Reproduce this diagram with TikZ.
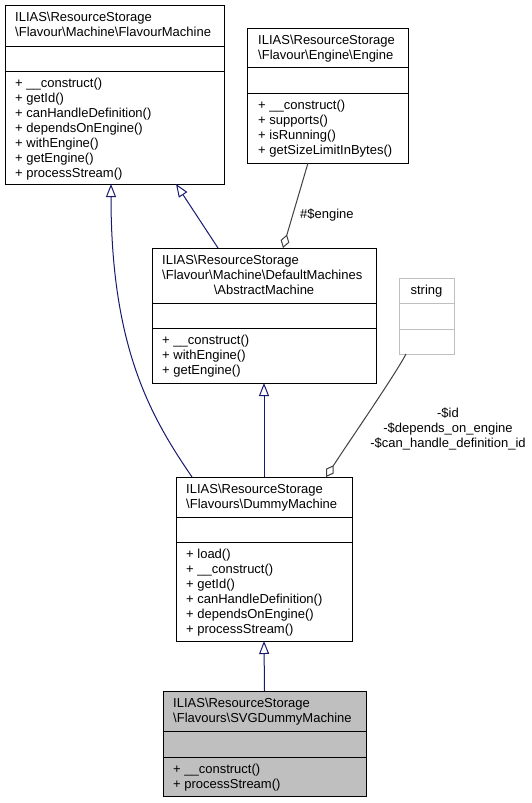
\documentclass[tikz,border=0pt]{standalone}
\usepackage{fontspec}
\setmainfont{Liberation Sans}
\usetikzlibrary{arrows.meta,calc}
\definecolor{edgeblue}{HTML}{191970}
\definecolor{aggr}{HTML}{404040}
\definecolor{lgray}{HTML}{BFBFBF}
\newcommand{\bs}{\textbackslash}
\begin{document}
\begin{tikzpicture}[x=1pt,y=-1pt,
 cls/.style={draw=black, line width=1pt, inner sep=0, outer sep=0, anchor=north west},
 sep/.style={line width=1pt},
 txt/.style={anchor=north west, inner sep=0, align=left, font=\fontsize{13}{15}\selectfont},
 inh/.style={draw=edgeblue, line width=1pt, -{Triangle[length=13pt,width=10pt,fill=white]}},
 agg/.style={draw=aggr, line width=1pt, -{Diamond[length=14pt,width=9pt,fill=white]}},
 lbl/.style={font=\fontsize{13}{15}\selectfont, inner sep=0, align=center}]
\useasboundingbox[fill=white] (0,0) rectangle (531,803);

% FlavourMachine
\node[cls, minimum width=219pt, minimum height=179pt] (fm) at (5,5) {};
\draw[sep] (fm.west |- 0,46) -- (fm.east |- 0,46);
\draw[sep] (fm.west |- 0,71) -- (fm.east |- 0,71);
\node[txt] (fmt) at (15,11) {\strut ILIAS\bs ResourceStorage\\ \bs Flavour\bs Machine\bs FlavourMachine};
\node[txt] (fmm) at (15,77) {\strut + \_\_construct()\\ + getId()\\ + canHandleDefinition()\\ + dependsOnEngine()\\ + withEngine()\\ + getEngine()\\ + processStream()};

% Engine
\node[cls, minimum width=161pt, minimum height=135pt] (en) at (247,28) {};
\draw[sep] (en.west |- 0,67) -- (en.east |- 0,67);
\draw[sep] (en.west |- 0,93) -- (en.east |- 0,93);
\node[txt] (ent) at (258,34) {\strut ILIAS\bs ResourceStorage\\ \bs Flavour\bs Engine\bs Engine};
\node[txt] (enm) at (258,99) {\strut + \_\_construct()\\ + supports()\\ + isRunning()\\ + getSizeLimitInBytes()};

% AbstractMachine
\node[cls, minimum width=224pt, minimum height=135pt] (am) at (152,248) {};
\draw[sep] (am.west |- 0,303) -- (am.east |- 0,303);
\draw[sep] (am.west |- 0,328) -- (am.east |- 0,328);
\node[txt] (amt) at (162,254) {\strut ILIAS\bs ResourceStorage\\ \bs Flavour\bs Machine\bs DefaultMachines};
\node[lbl, anchor=base] (amt3) at (264,294.5) {\bs AbstractMachine};
\node[txt] (amm) at (162,334) {\strut + \_\_construct()\\ + withEngine()\\ + getEngine()};

% string
\node[cls, draw=lgray, minimum width=55pt, minimum height=76pt] (st) at (399,278) {};
\draw[sep, lgray] (st.west |- 0,303) -- (st.east |- 0,303);
\draw[sep, lgray] (st.west |- 0,329) -- (st.east |- 0,329);
\node[lbl, anchor=base] (stt) at (426.5,294.5) {string};

% DummyMachine
\node[cls, minimum width=176pt, minimum height=164pt] (dm) at (176,477) {};
\draw[sep] (dm.west |- 0,517) -- (dm.east |- 0,517);
\draw[sep] (dm.west |- 0,542) -- (dm.east |- 0,542);
\node[txt] (dmt) at (186,483) {\strut ILIAS\bs ResourceStorage\\ \bs Flavours\bs DummyMachine};
\node[txt] (dmm) at (186,548) {\strut + load()\\ + \_\_construct()\\ + getId()\\ + canHandleDefinition()\\ + dependsOnEngine()\\ + processStream()};

% SVGDummyMachine
\node[cls, fill=lgray, minimum width=203pt, minimum height=105pt] (sv) at (163,691) {};
\draw[sep] (sv.west |- 0,731) -- (sv.east |- 0,731);
\draw[sep] (sv.west |- 0,757) -- (sv.east |- 0,757);
\node[txt] (svt) at (173,697) {\strut ILIAS\bs ResourceStorage\\ \bs Flavours\bs SVGDummyMachine};
\node[txt] (svm) at (173,763) {\strut + \_\_construct()\\ + processStream()};

% edges
\draw[inh] ([xshift=16pt]dm.north west) .. controls (151,417) and (111,348) .. ([xshift=106pt]fm.south west);
\draw[inh] ([xshift=66pt]am.north west) -- ([xshift=171pt]fm.south west);
\draw[agg] ([xshift=61pt]en.south west) -- ([xshift=131pt]am.north west);
\node[lbl, anchor=west] (enl) at (300,215) {\#\$engine};
\draw[agg] ([xshift=7pt]st.south west) .. controls (395,375) and (350,440) .. ([xshift=150pt]dm.north west);
\node[lbl] (stl) at (448,429) {-\$id\\ -\$depends\_on\_engine\\ -\$can\_handle\_definition\_id};
\draw[inh] (dm.north) -- (am.south);
\draw[inh] (sv.north) -- (dm.south);
\end{tikzpicture}
\end{document}
